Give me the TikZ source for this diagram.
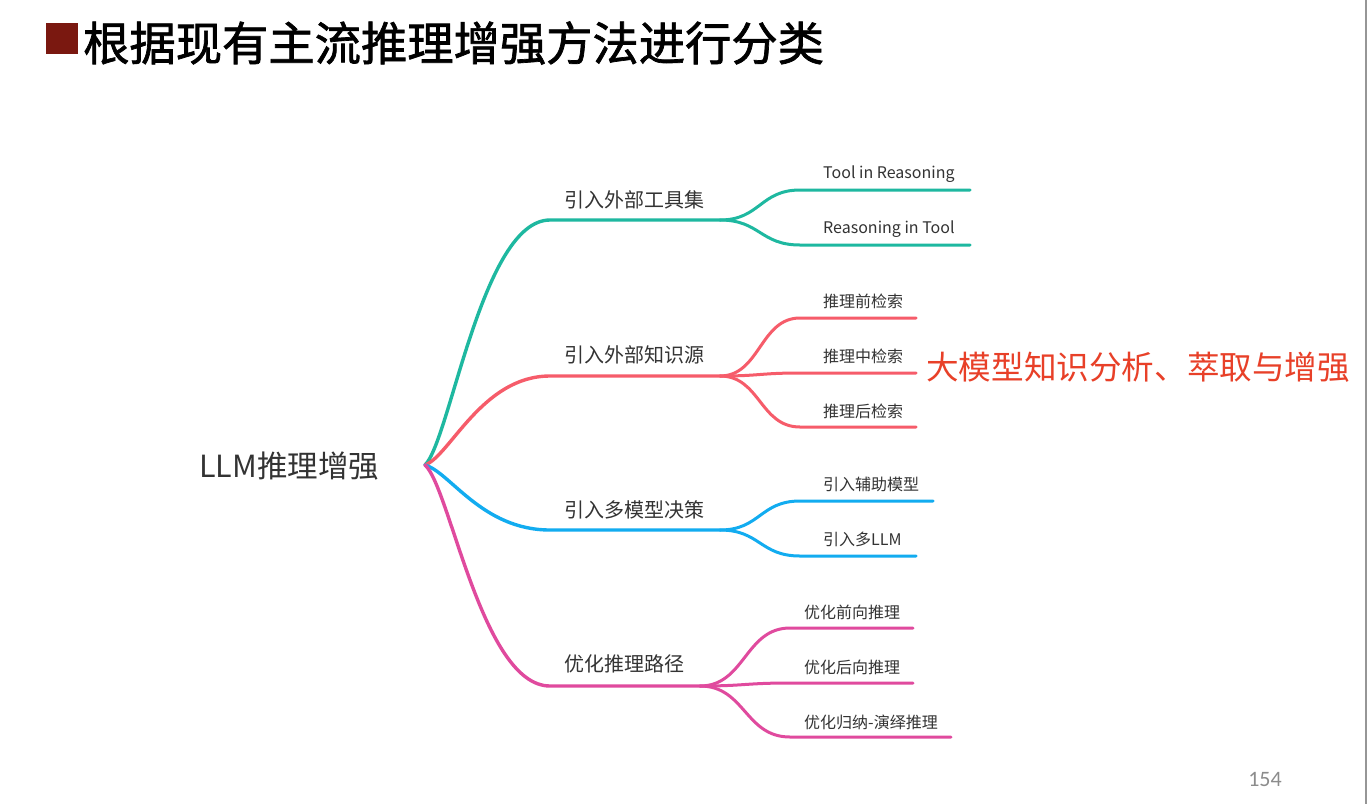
\documentclass[tikz,border=0pt]{standalone}
\usepackage{fontspec}
\setmainfont{Noto Sans CJK SC}
\newfontfamily\titlefont[FakeBold=1.5]{Noto Sans CJK SC}
\newfontfamily\numfont{Carlito}
\usetikzlibrary{calc}
\definecolor{cteal}{RGB}{30,184,160}
\definecolor{cred}{RGB}{246,92,106}
\definecolor{cblue}{RGB}{18,172,240}
\definecolor{cpink}{RGB}{224,74,158}
\definecolor{txtgray}{RGB}{51,51,51}
\definecolor{hlred}{RGB}{232,64,40}
\definecolor{sqred}{RGB}{122,24,16}
\definecolor{pggray}{RGB}{140,140,140}
\definecolor{edgegray}{RGB}{150,150,150}
\tikzset{
  mainline/.style={line width=3.4pt, line cap=round},
  subline/.style={line width=3pt, line cap=round},
  mainlbl/.style={text=txtgray, inner sep=0pt, anchor=west, font=\fontsize{20}{24}\selectfont},
  sublbl/.style={text=txtgray, inner sep=0pt, anchor=west, font=\fontsize{16}{19}\selectfont},
}
\begin{document}
\begin{tikzpicture}[x=1pt,y=-1pt]
\useasboundingbox (0,0) rectangle (1368,804);
\fill[white] (0,0) rectangle (1368,804);
% right edge line
\draw[edgegray, line width=2pt] (1366,0) -- (1366,804);
% title
\fill[sqred] (46,23) rectangle (78,54);
\node[anchor=west, inner sep=0pt, font=\titlefont\fontsize{46.3}{50}\selectfont] (title) at (83,43) {根据现有主流推理增强方法进行分类};
% root
\node[anchor=west, inner sep=0pt, text=txtgray, font=\fontsize{30.5}{34}\selectfont] (root) at (199,466) {LLM推理增强};
\coordinate (R) at (425,465);
% ---- teal branch
\coordinate (T0) at (550,220); \coordinate (T1) at (720,220);
\coordinate (Ta) at (800,190); \coordinate (TaE) at (970,190);
\coordinate (Tb) at (800,245); \coordinate (TbE) at (970,245);
\draw[mainline, cteal] (R) .. controls ($(R)+(25,-24)$) and ($(T0)+(-68,0)$) .. (T0) -- (T1);
\draw[subline, cteal] (T1) .. controls ($(T1)+(40,0)$) and ($(Ta)+(-40,0)$) .. (Ta) -- (TaE);
\draw[subline, cteal] (T1) .. controls ($(T1)+(40,0)$) and ($(Tb)+(-40,0)$) .. (Tb) -- (TbE);
\node[mainlbl] (l1) at (564,200) {引入外部工具集};
\node[sublbl] (l1a) at (823,174) {Tool in Reasoning};
\node[sublbl] (l1b) at (823,229) {Reasoning in Tool};
% ---- red branch
\coordinate (K0) at (550,376); \coordinate (K1) at (720,376);
\coordinate (Ka) at (800,318); \coordinate (KaE) at (916,318);
\coordinate (Kb) at (800,373); \coordinate (KbE) at (916,373);
\coordinate (Kc) at (800,427); \coordinate (KcE) at (916,427);
\draw[mainline, cred] (R) .. controls ($(R)+(25,-9)$) and ($(K0)+(-68,0)$) .. (K0) -- (K1);
\draw[subline, cred] (K1) .. controls ($(K1)+(40,0)$) and ($(Ka)+(-40,0)$) .. (Ka) -- (KaE);
\draw[subline, cred] (K1) .. controls ($(K1)+(40,0)$) and ($(Kb)+(-40,0)$) .. (Kb) -- (KbE);
\draw[subline, cred] (K1) .. controls ($(K1)+(40,0)$) and ($(Kc)+(-40,0)$) .. (Kc) -- (KcE);
\node[mainlbl] (l2) at (564,355) {引入外部知识源};
\node[sublbl] (l2a) at (823,301) {推理前检索};
\node[sublbl] (l2b) at (823,356) {推理中检索};
\node[sublbl] (l2c) at (823,411) {推理后检索};
% ---- blue branch
\coordinate (B0) at (550,530); \coordinate (B1) at (720,530);
\coordinate (Ba) at (800,501); \coordinate (BaE) at (933,501);
\coordinate (Bb) at (800,556); \coordinate (BbE) at (916,556);
\draw[mainline, cblue] (R) .. controls ($(R)+(25,7)$) and ($(B0)+(-68,0)$) .. (B0) -- (B1);
\draw[subline, cblue] (B1) .. controls ($(B1)+(40,0)$) and ($(Ba)+(-40,0)$) .. (Ba) -- (BaE);
\draw[subline, cblue] (B1) .. controls ($(B1)+(40,0)$) and ($(Bb)+(-40,0)$) .. (Bb) -- (BbE);
\node[mainlbl] (l3) at (564,510) {引入多模型决策};
\node[sublbl] (l3a) at (823,484) {引入辅助模型};
\node[sublbl] (l3b) at (823,539) {引入多LLM};
% ---- pink branch
\coordinate (P0) at (550,686); \coordinate (P1) at (700,686);
\coordinate (Pa) at (790,628); \coordinate (PaE) at (913,628);
\coordinate (Pb) at (790,683); \coordinate (PbE) at (913,683);
\coordinate (Pc) at (790,737); \coordinate (PcE) at (951,737);
\draw[mainline, cpink] (R) .. controls ($(R)+(25,22)$) and ($(P0)+(-68,0)$) .. (P0) -- (P1);
\draw[subline, cpink] (P1) .. controls ($(P1)+(45,0)$) and ($(Pa)+(-45,0)$) .. (Pa) -- (PaE);
\draw[subline, cpink] (P1) .. controls ($(P1)+(45,0)$) and ($(Pb)+(-45,0)$) .. (Pb) -- (PbE);
\draw[subline, cpink] (P1) .. controls ($(P1)+(45,0)$) and ($(Pc)+(-45,0)$) .. (Pc) -- (PcE);
\node[mainlbl] (l4) at (564,664) {优化推理路径};
\node[sublbl] (l4a) at (804,612) {优化前向推理};
\node[sublbl] (l4b) at (804,667) {优化后向推理};
\node[sublbl] (l4c) at (804,722) {优化归纳-演绎推理};
% highlight text
\node[anchor=west, inner sep=0pt, text=hlred, font=\fontsize{32.6}{36}\selectfont] (hl) at (926,367) {大模型知识分析、萃取与增强};
% page number
\node[inner sep=0pt, text=pggray, font=\numfont\fontsize{22}{24}\selectfont] (pg) at (1265,779) {154};
\end{tikzpicture}
\end{document}
